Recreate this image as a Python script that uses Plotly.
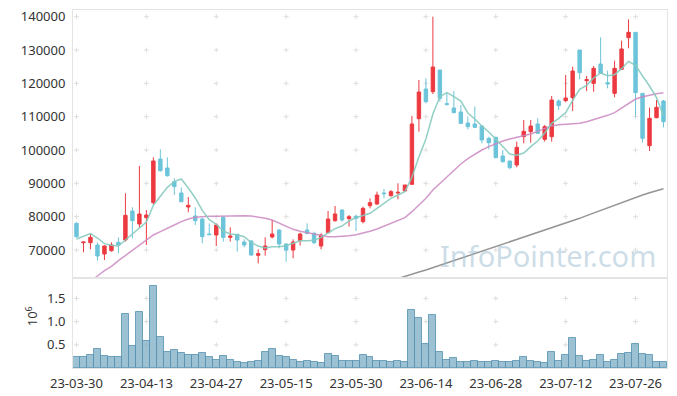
import plotly.graph_objects as go

# ---------------- data ----------------
dates = [
    "2023-03-30", "2023-03-31", "2023-04-03", "2023-04-04", "2023-04-05", "2023-04-06", "2023-04-07",
    "2023-04-10", "2023-04-11", "2023-04-12", "2023-04-13", "2023-04-14", "2023-04-17", "2023-04-18",
    "2023-04-19", "2023-04-20", "2023-04-21", "2023-04-24", "2023-04-25", "2023-04-26", "2023-04-27",
    "2023-04-28", "2023-05-02", "2023-05-03", "2023-05-04", "2023-05-08", "2023-05-09", "2023-05-10",
    "2023-05-11", "2023-05-12", "2023-05-15", "2023-05-16", "2023-05-17", "2023-05-18", "2023-05-19",
    "2023-05-22", "2023-05-23", "2023-05-24", "2023-05-25", "2023-05-26", "2023-05-30", "2023-05-31",
    "2023-06-01", "2023-06-02", "2023-06-05", "2023-06-07", "2023-06-08", "2023-06-09", "2023-06-12",
    "2023-06-13", "2023-06-14", "2023-06-15", "2023-06-16", "2023-06-19", "2023-06-20", "2023-06-21",
    "2023-06-22", "2023-06-23", "2023-06-26", "2023-06-27", "2023-06-28", "2023-06-29", "2023-06-30",
    "2023-07-03", "2023-07-04", "2023-07-05", "2023-07-06", "2023-07-07", "2023-07-10", "2023-07-11",
    "2023-07-12", "2023-07-13", "2023-07-14", "2023-07-17", "2023-07-18", "2023-07-19", "2023-07-20",
    "2023-07-21", "2023-07-24", "2023-07-25", "2023-07-26", "2023-07-27", "2023-07-28", "2023-07-31",
    "2023-08-01",
]

opens = [78000, 72200, 72200, 71500, 68800, 69800, 72300, 73000, 81700, 77800,
         79700, 84200, 97300, 94600, 90500, 87100, 82900, 80200, 79300, 74800,
         74500, 79800, 73800, 74700, 72400, 72700, 68400, 70100, 73900, 76000,
         71800, 70000, 72800, 76000, 75000, 71200, 75200, 78800, 82000, 79400,
         80100, 78500, 83300, 83800, 87100, 86300, 87100, 87700, 89700, 109400,
         118300, 117500, 124000, 113900, 112600, 111400, 108100, 107800, 107200, 103500,
         103800, 98200, 96700, 95500, 104000, 105500, 107800, 103200, 104000, 114700,
         114800, 115700, 130000, 120800, 120000, 125800, 120200, 117000, 124200, 133700,
         135300, 117000, 101300, 109700, 114700]

highs = [78300, 72500, 74800, 72200, 71400, 72300, 73800, 87000, 82800, 95200,
         82000, 97800, 100200, 97800, 91500, 88800, 85900, 82800, 79500, 78000,
         78000, 80200, 76800, 74700, 73200, 73000, 70200, 73800, 79000, 76200,
         72000, 73200, 75200, 78000, 75500, 75000, 81700, 83200, 82200, 80500,
         80500, 83000, 85500, 87500, 88300, 88000, 90000, 89500, 110200, 121000,
         121500, 140000, 124000, 117300, 117700, 113500, 110000, 113000, 107200, 104000,
         104000, 100000, 96700, 102500, 109000, 109000, 109500, 107500, 116200, 115200,
         122500, 125000, 130000, 122200, 125200, 133800, 123800, 126800, 132800, 139200,
         135300, 117000, 112700, 115000, 115000]

lows = [73700, 69300, 70200, 66800, 67000, 69500, 69000, 72500, 73500, 76700,
        71500, 83500, 93500, 92000, 86500, 84300, 81300, 77500, 72000, 74500,
        71200, 72500, 72500, 69500, 70800, 68300, 66000, 68300, 73500, 70500,
        66500, 67500, 71300, 74700, 71800, 70200, 75000, 78500, 78500, 77000,
        75700, 78000, 82500, 83500, 85500, 86000, 85200, 87500, 89700, 105500,
        114000, 116800, 114500, 113300, 111000, 107800, 106200, 106600, 102000, 100200,
        97500, 96200, 94200, 94800, 102000, 102200, 104800, 102500, 102500, 112000,
        114300, 111700, 121200, 117700, 117500, 122800, 118500, 115800, 124000, 130500,
        110000, 102200, 99700, 109500, 106800]

closes = [74000, 72400, 73800, 68200, 71200, 71500, 71500, 80400, 78800, 80800,
          80500, 96700, 93800, 92300, 89000, 84500, 83400, 78800, 74000, 74600,
          77500, 73800, 74200, 73000, 71500, 68500, 68900, 71200, 74800, 71800,
          70000, 72400, 74800, 75000, 72200, 74500, 79300, 80800, 79000, 80000,
          79500, 82500, 84200, 86500, 86900, 87500, 87300, 89500, 107800, 117400,
          114500, 124900, 115500, 113700, 111200, 108000, 107000, 106800, 103000, 102200,
          97700, 96500, 94700, 100800, 105600, 107200, 105000, 107000, 115000, 113300,
          115600, 123700, 123200, 121100, 124500, 123000, 119800, 124500, 130300, 135300,
          117200, 103500, 109500, 112800, 108500]

ma5 = [73300, 74200, 74900, 73600, 71900, 71400, 71200, 73000, 74700, 76600,
       78400, 83400, 86100, 88800, 90500, 91300, 88600, 85600, 81900, 79100,
       77700, 75700, 74800, 74600, 74000, 72200, 71200, 70600, 71000, 71000,
       71300, 72000, 72800, 72800, 72900, 73800, 75200, 76400, 77200, 78700,
       79700, 80400, 81000, 82500, 83900, 85500, 86500, 87500, 91800, 97900,
       103300, 110800, 116000, 117200, 116000, 114700, 111100, 109300, 107200, 105400,
       103300, 101200, 98800, 98400, 99100, 101000, 102700, 105100, 108000, 109500,
       111200, 114900, 118200, 119400, 121600, 123100, 122300, 122600, 124400, 126600,
       125400, 122200, 119200, 115700, 110300]

ma20 = [57800, 59200, 60700, 62200, 63800, 65100, 66800, 68300, 70000, 71500,
        73000, 74500, 75500, 76600, 77500, 78500, 79300, 79800, 80000, 80100,
        80100, 80200, 80300, 80300, 80300, 80200, 79900, 79500, 79000, 78000,
        77000, 76200, 75600, 75200, 74700, 74200, 74000, 74000, 74100, 74300,
        74600, 75000, 75600, 76300, 77200, 78000, 78800, 79700, 81500, 83500,
        85500, 88000, 90000, 92000, 94000, 95800, 97400, 98800, 100000, 101000,
        101900, 102700, 103300, 103800, 104300, 104800, 105600, 106500, 107300, 107600,
        107700, 107700, 108000, 108500, 109100, 109800, 110400, 111200, 112500, 114000,
        115300, 116000, 116500, 116900, 117200]

ma60 = [None] * 44 + [
    60100, 60800, 61500, 62200, 62800, 63400,
    64000, 64700, 65400, 66000, 66700, 67400, 68100, 68800, 69500, 70200,
    70900, 71600, 72300, 73000, 73700, 74400, 75100, 75800, 76500, 77200,
    77900, 78700, 79500, 80300, 81100, 81900, 82700, 83500, 84300, 85100,
    85800, 86500, 87200, 87800, 88400]

volume = [230000, 230000, 270000, 420000, 250000, 230000, 230000, 1160000, 480000, 1210000,
          590000, 1760000, 670000, 350000, 380000, 330000, 270000, 290000, 330000, 230000,
          180000, 250000, 180000, 140000, 100000, 140000, 160000, 350000, 420000, 250000,
          230000, 180000, 120000, 160000, 120000, 100000, 310000, 250000, 160000, 150000,
          160000, 290000, 230000, 160000, 160000, 120000, 160000, 120000, 1250000, 1080000,
          520000, 1140000, 350000, 180000, 210000, 140000, 120000, 160000, 140000, 120000,
          160000, 120000, 120000, 160000, 230000, 160000, 140000, 100000, 350000, 160000,
          270000, 650000, 250000, 160000, 180000, 290000, 120000, 180000, 310000, 330000,
          520000, 310000, 290000, 120000, 140000]

tick_dates = dates[::10]
tick_labels = ["23-03-30", "23-04-13", "23-04-27", "23-05-15", "23-05-30",
               "23-06-14", "23-06-28", "23-07-12", "23-07-26"]
price_ticks = [70000, 80000, 90000, 100000, 110000, 120000, 130000, 140000]
vol_ticks = [500000, 1000000, 1500000]
vol_tick_labels = ["0.5", "1.0", "1.5"]

# ---------------- styling ----------------
UP = "#ec3a40"
DOWN = "#6cc4da"
FONT = dict(family="Noto Sans", size=13, color="#333333")
GRID_MARK = "#dedede"
BORDER = "#e4e4e4"
split = 0.2514

fig = go.Figure()

# small "+" grid marks at tick intersections, drawn beneath the data
def add_cross(xref, yref, xv, yv):
    fig.add_shape(type="line", xref=xref, yref=yref, layer="below",
                  xsizemode="pixel", xanchor=xv, x0=-2.5, x1=2.5, y0=yv, y1=yv,
                  line=dict(color=GRID_MARK, width=1))
    fig.add_shape(type="line", xref=xref, yref=yref, layer="below",
                  ysizemode="pixel", yanchor=yv, y0=-2.5, y1=2.5, x0=xv, x1=xv,
                  line=dict(color=GRID_MARK, width=1))

for d in tick_dates:
    for p in price_ticks:
        add_cross("x", "y", d, p)
    for v in vol_ticks:
        add_cross("x2", "y2", d, v)

fig.add_trace(go.Candlestick(
    x=dates, open=opens, high=highs, low=lows, close=closes,
    increasing=dict(line=dict(color=UP, width=1), fillcolor=UP),
    decreasing=dict(line=dict(color=DOWN, width=1), fillcolor=DOWN),
    whiskerwidth=0, showlegend=False, xaxis="x", yaxis="y"))

fig.add_trace(go.Scatter(x=dates, y=ma60, mode="lines", line=dict(color="#8a8a8a", width=1.5),
                         opacity=0.9, showlegend=False, xaxis="x", yaxis="y"))
fig.add_trace(go.Scatter(x=dates, y=ma20, mode="lines", line=dict(color="#cc88c2", width=1.5),
                         opacity=0.85, showlegend=False, xaxis="x", yaxis="y"))
fig.add_trace(go.Scatter(x=dates, y=ma5, mode="lines", line=dict(color="#86cbbf", width=1.5),
                         opacity=0.9, showlegend=False, xaxis="x", yaxis="y"))

fig.add_trace(go.Bar(x=dates, y=volume, showlegend=False,
                     marker=dict(color="rgba(130,178,200,0.8)",
                                 line=dict(color="rgba(85,145,175,0.8)", width=1)),
                     xaxis="x2", yaxis="y2"))

fig.add_annotation(text="InfoPointer.com", xref="paper", yref="paper", x=0.8, y=0.313,
                   xanchor="center", yanchor="middle", showarrow=False,
                   font=dict(family="Noto Sans", size=29, color="rgba(160,192,210,0.55)"))

# volume axis multiplier label (rotated), placed left of the volume tick labels
fig.add_annotation(text="10<sup>6</sup>", xref="paper", yref="paper", x=-0.07, y=split / 2 + 0.02,
                   xanchor="center", yanchor="middle", showarrow=False, textangle=-90,
                   font=FONT)

axis_common = dict(showgrid=False, zeroline=False, showline=True, linecolor=BORDER,
                   linewidth=1, mirror=True, automargin=False)

# the page body adds an 8px offset, so the figure is sized to fit the 677x396 window
fig.update_layout(
    width=669, height=388,
    margin=dict(l=65, r=10, t=2, b=28),
    paper_bgcolor="white", plot_bgcolor="white",
    bargap=0,
    showlegend=False,
    font=FONT,
    xaxis=dict(domain=[0, 1], anchor="y", type="category", categoryorder="array",
               categoryarray=dates, range=[-0.5, len(dates) - 0.5], showticklabels=False,
               rangeslider=dict(visible=False), **axis_common),
    yaxis=dict(domain=[split, 1], anchor="x", range=[61600, 142000], tickvals=price_ticks,
               tickformat="d", ticks="outside", ticklen=4, tickcolor="rgba(0,0,0,0)",
               ticklabeloverflow="allow", tickfont=FONT, **axis_common),
    xaxis2=dict(domain=[0, 1], anchor="y2", type="category", categoryorder="array",
                categoryarray=dates, range=[-0.5, len(dates) - 0.5], matches="x",
                tickvals=tick_dates, ticktext=tick_labels, tickfont=FONT,
                ticks="outside", ticklen=3, tickcolor="rgba(0,0,0,0)",
                ticklabeloverflow="allow",
                rangeslider=dict(visible=False), **axis_common),
    yaxis2=dict(domain=[0, split], anchor="x2", range=[0, 1940000], tickvals=vol_ticks,
                ticktext=vol_tick_labels, ticks="outside", ticklen=4,
                tickcolor="rgba(0,0,0,0)", tickfont=FONT, **axis_common),
)

fig.write_html("out.html")
